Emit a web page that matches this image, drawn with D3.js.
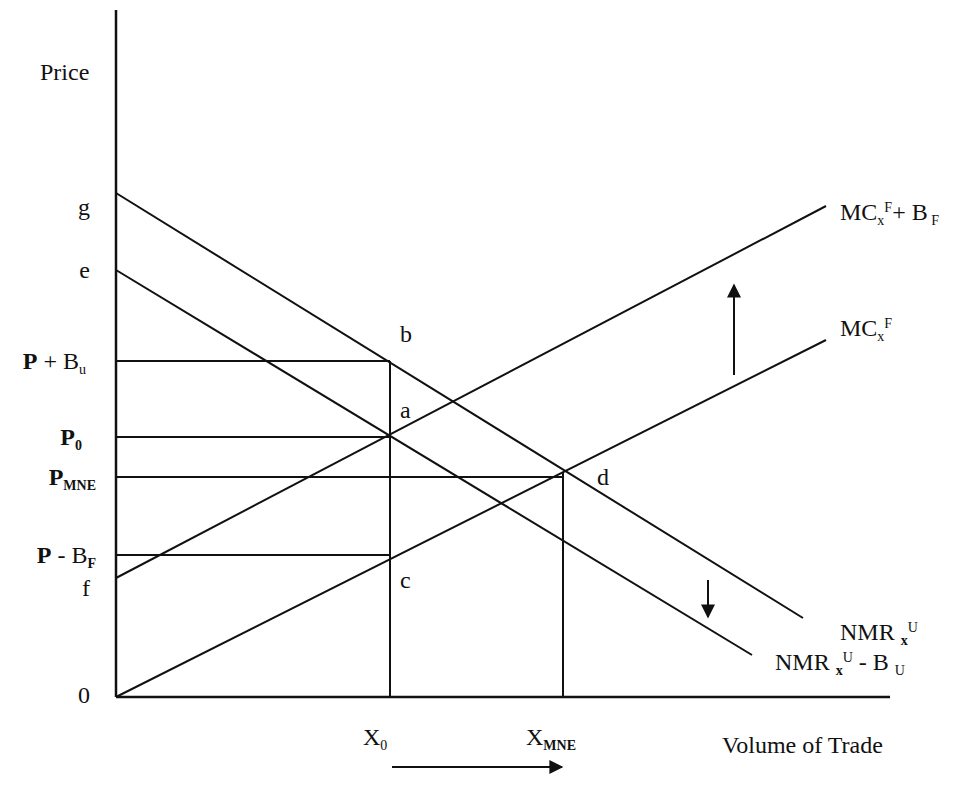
<!DOCTYPE html>
<html>
<head>
<meta charset="utf-8">
<script src="https://cdn.jsdelivr.net/npm/d3@7"></script>
<style>
  html, body { margin: 0; padding: 0; background: #fff; }
  svg { display: block; }
  text { font-family: "Liberation Serif", "DejaVu Serif", serif; fill: #111; }
</style>
</head>
<body>
<svg id="chart" width="972" height="802"></svg>
<script>
// ---- data (in chart units: volume of trade / price) ----
const xDomain = [0, 774];
const yDomain = [0, 687];

// curves: [x0, y0, x1, y1]
const curveNames = ["NMR", "NMR_minus_B", "MC", "MC_plus_B"];
const curveX0 = [0, 0, 0, 0];
const curveY0 = [504, 427, 0, 119];
const curveX1 = [687, 636, 710, 710];
const curveY1 = [79, 42, 357, 491];

// price levels and quantities
const priceNames = ["P+B", "P0", "PMNE", "P-B"];
const priceValues = [336, 260, 220, 142];
const priceToX = [274, 274, 447, 274];
const quantityNames = ["X0", "XMNE"];
const quantityValues = [274, 447];
const quantityTopY = [336, 225];

// axis-point labels
const yPointLabels = ["g", "e", "f", "0"];
const yPointValues = [504, 427, 119, 0];

// arrows: [x0,y0,x1,y1]
const arrowX0 = [618, 592, 276];
const arrowY0 = [322, 117, -70];
const arrowX1 = [618, 592, 446];
const arrowY1 = [412, 80, -70];

const svg = d3.select("#chart");
const x = d3.scaleLinear().domain(xDomain).range([116, 890]);
const y = d3.scaleLinear().domain(yDomain).range([697, 10]);

// arrow marker
const defs = svg.append("defs");
defs.append("marker")
  .attr("id", "ah").attr("viewBox", "0 0 10 10")
  .attr("refX", 9).attr("refY", 5)
  .attr("markerWidth", 7).attr("markerHeight", 7)
  .attr("markerUnits", "userSpaceOnUse")
  .attr("orient", "auto")
  .append("path").attr("d", "M0,0 L10,5 L0,10 Z").attr("fill", "#111");
defs.select("marker").attr("markerWidth", 16).attr("markerHeight", 14);

// axes
svg.append("line").attr("x1", x(0)).attr("y1", y(0)).attr("x2", x(0)).attr("y2", y(687))
  .attr("stroke", "#111").attr("stroke-width", 2.5);
svg.append("line").attr("x1", x(0)).attr("y1", y(0)).attr("x2", x(774)).attr("y2", y(0))
  .attr("stroke", "#111").attr("stroke-width", 2.5);

// curves
svg.selectAll("line.curve").data(curveNames).join("line")
  .attr("class", "curve")
  .attr("x1", (d, i) => x(curveX0[i])).attr("y1", (d, i) => y(curveY0[i]))
  .attr("x2", (d, i) => x(curveX1[i])).attr("y2", (d, i) => y(curveY1[i]))
  .attr("stroke", "#111").attr("stroke-width", 2);

// price horizontals
svg.selectAll("line.price").data(priceNames).join("line")
  .attr("class", "price")
  .attr("x1", x(0)).attr("y1", (d, i) => y(priceValues[i]))
  .attr("x2", (d, i) => x(priceToX[i])).attr("y2", (d, i) => y(priceValues[i]))
  .attr("stroke", "#111").attr("stroke-width", 2);

// quantity verticals
svg.selectAll("line.qty").data(quantityNames).join("line")
  .attr("class", "qty")
  .attr("x1", (d, i) => x(quantityValues[i])).attr("y1", y(0))
  .attr("x2", (d, i) => x(quantityValues[i])).attr("y2", (d, i) => y(quantityTopY[i]))
  .attr("stroke", "#111").attr("stroke-width", 2);

// arrows
svg.selectAll("line.arrow").data(arrowX0).join("line")
  .attr("class", "arrow")
  .attr("x1", (d, i) => x(arrowX0[i])).attr("y1", (d, i) => y(arrowY0[i]))
  .attr("x2", (d, i) => x(arrowX1[i])).attr("y2", (d, i) => y(arrowY1[i]))
  .attr("stroke", "#111").attr("stroke-width", 2)
  .attr("marker-end", "url(#ah)");

// ---- text ----
const FS = 24, SS = 14;
function label(px, py, parts, anchor) {
  const t = svg.append("text").attr("x", px).attr("y", py)
    .attr("font-size", FS).attr("text-anchor", anchor || "start");
  parts.forEach(p => {
    const s = t.append("tspan").text(p.t);
    if (p.b) s.attr("font-weight", "bold");
    if (p.sub) s.attr("font-size", SS).attr("baseline-shift", -5);
    if (p.sup) s.attr("font-size", SS).attr("baseline-shift", 8);
  });
  return t;
}

label(40, 80, [{t: "Price"}]);

svg.selectAll("text.ypt").data(yPointLabels).join("text")
  .attr("class", "ypt")
  .attr("x", 90).attr("y", (d, i) => y(yPointValues[i]) + [22, 8, 18, 6][i])
  .attr("text-anchor", "end").attr("font-size", FS)
  .text(d => d);

label(86, y(priceValues[0]) + 8, [{t: "P", b: true}, {t: " + B"}, {t: "u", sub: true}], "end");
label(82, y(priceValues[1]) + 8, [{t: "P", b: true}, {t: "0", sub: true, b: true}], "end");
label(96, y(priceValues[2]) + 8, [{t: "P", b: true}, {t: "MNE", sub: true, b: true}], "end");
label(96, y(priceValues[3]) + 8, [{t: "P", b: true}, {t: " - B"}, {t: "F", sub: true, b: true}], "end");

label(363, 745, [{t: "X"}, {t: "0", sub: true}]);
label(526, 745, [{t: "X"}, {t: "MNE", sub: true, b: true}]);
label(722, 753, [{t: "Volume of Trade"}]);

label(400, 342, [{t: "b"}]);
label(400, 418, [{t: "a"}]);
label(400, 588, [{t: "c"}]);
label(597, 485, [{t: "d"}]);

label(840, 220, [{t: "MC"}, {t: "x", sub: true}, {t: "F", sup: true}, {t: "+ B"}, {t: " F", sub: true}]);
label(840, 336, [{t: "MC"}, {t: "x", sub: true}, {t: "F", sup: true}]);
label(840, 640, [{t: "NMR "}, {t: "x", sub: true, b: true}, {t: "U", sup: true}]);
label(775, 670, [{t: "NMR "}, {t: "x", sub: true, b: true}, {t: "U", sup: true}, {t: " - B "}, {t: "U", sub: true}]);
</script>
</body>
</html>
